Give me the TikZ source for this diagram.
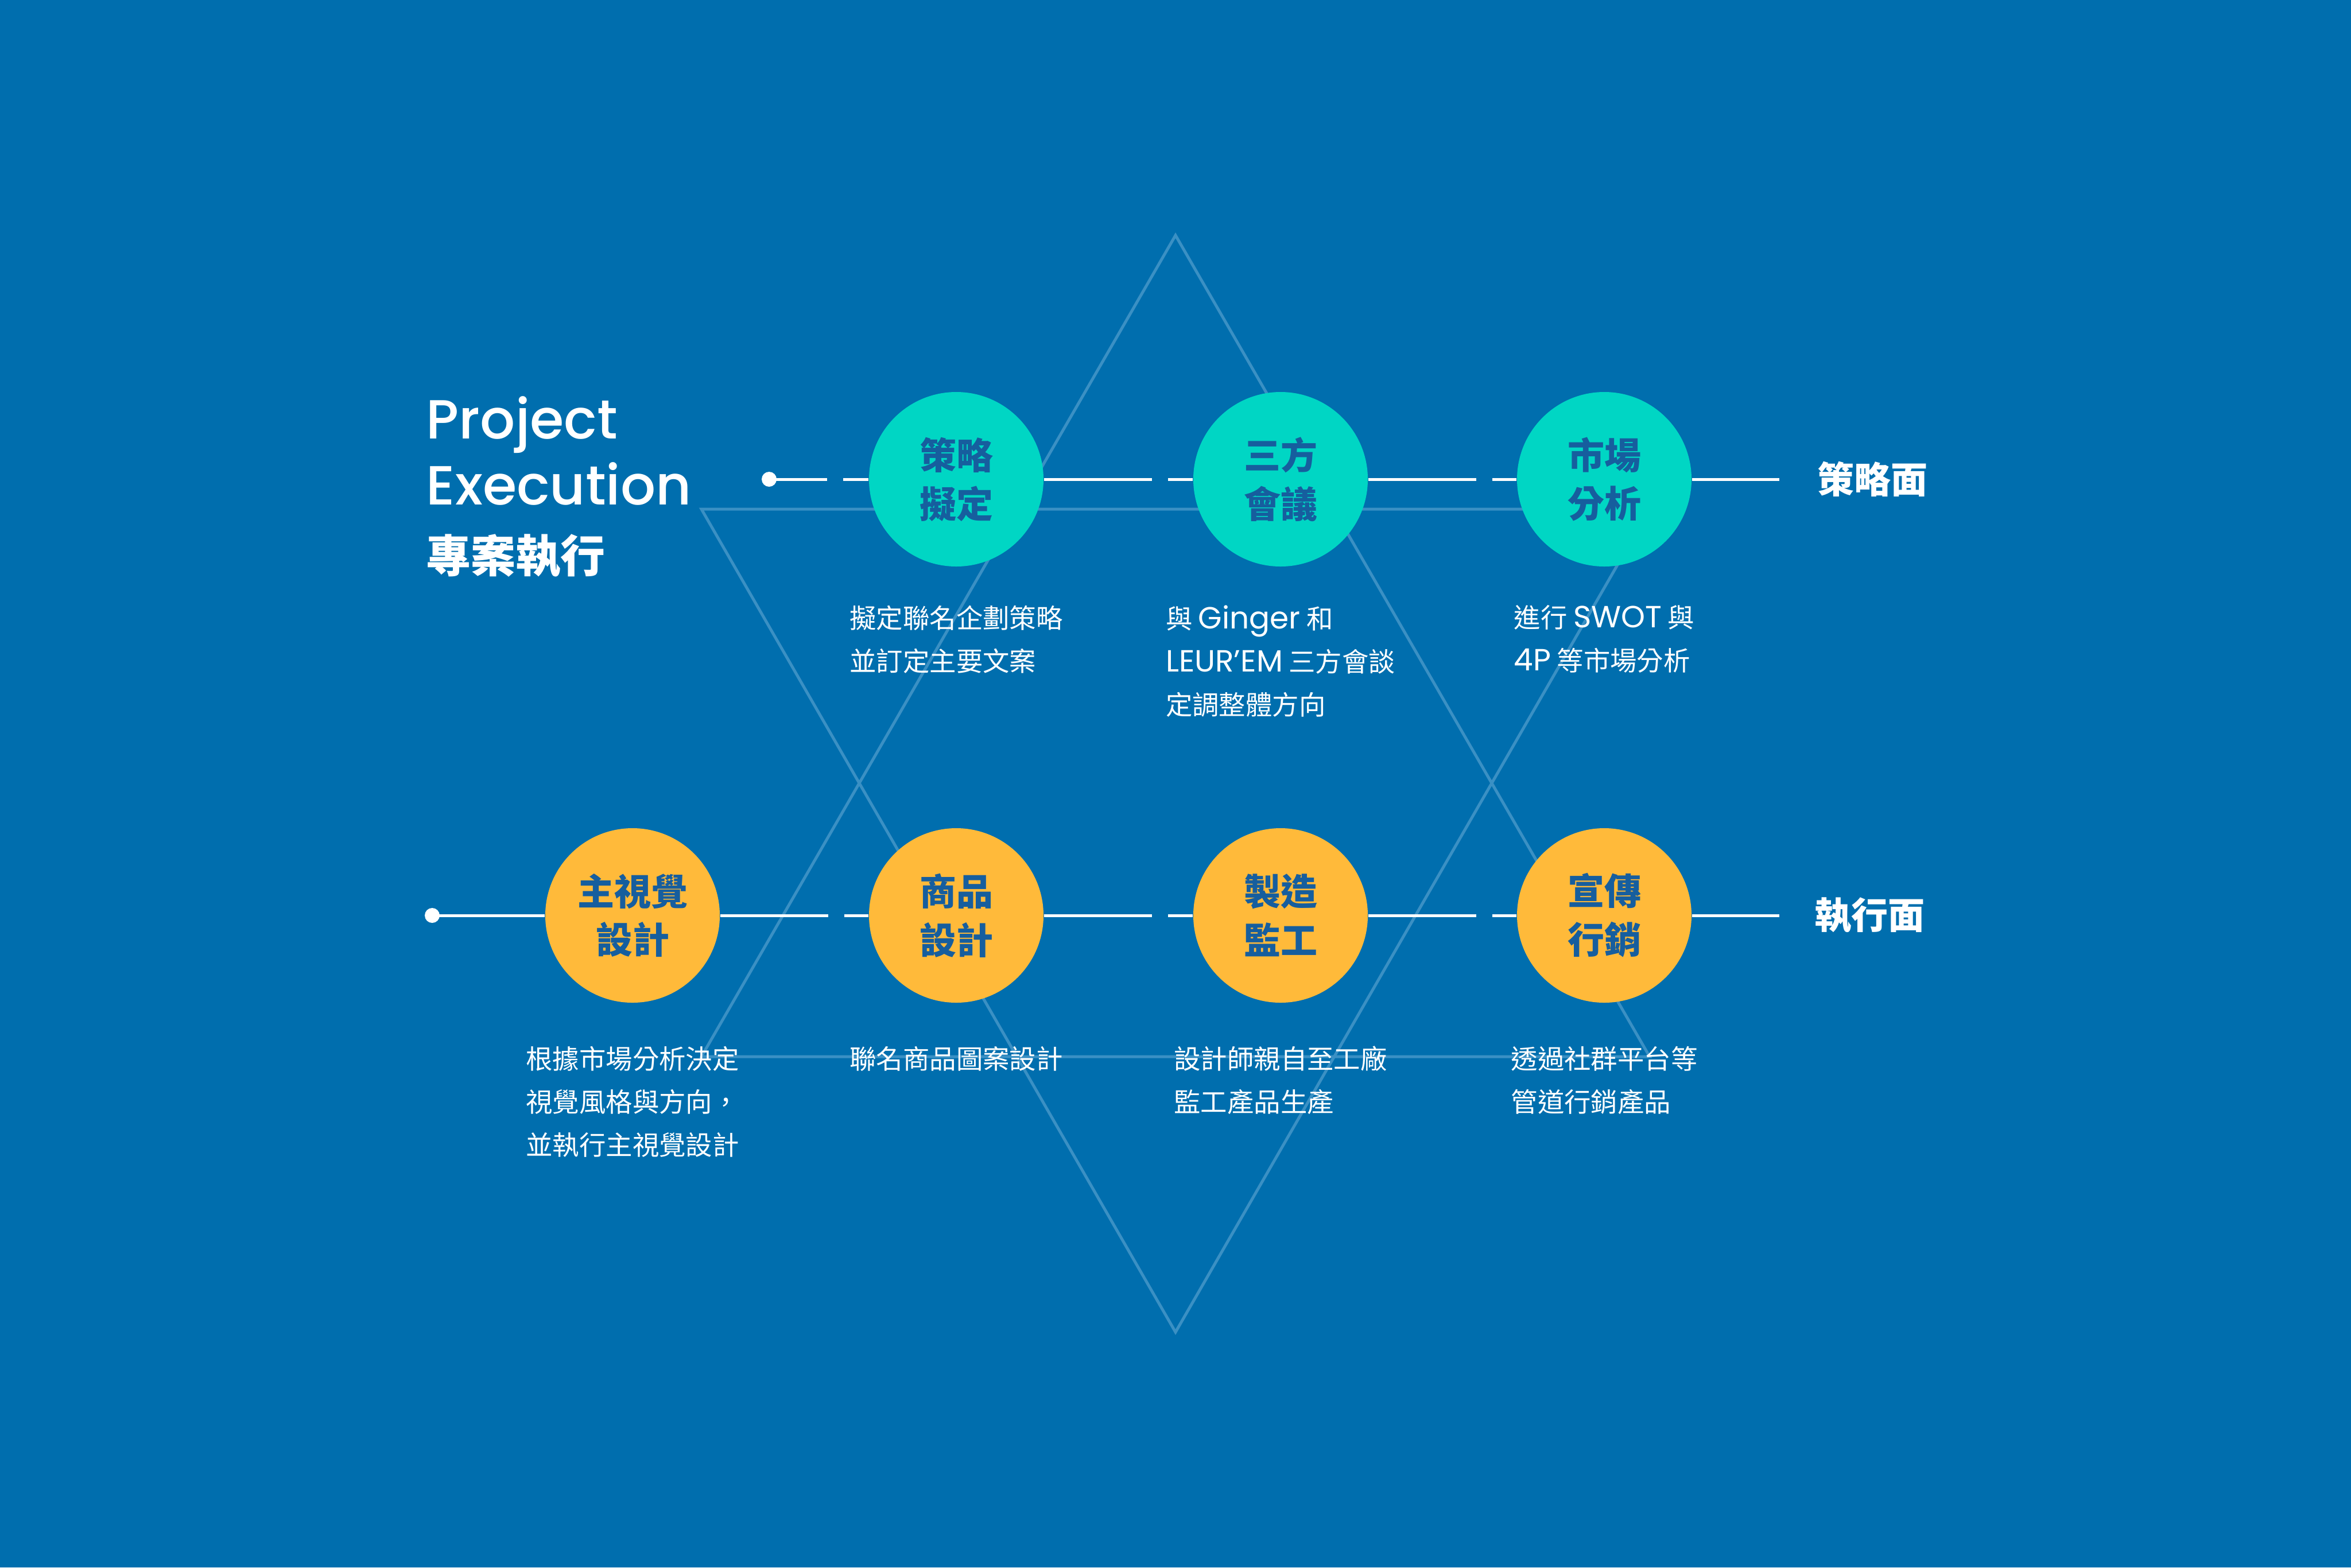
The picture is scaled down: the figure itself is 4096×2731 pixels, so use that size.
\documentclass[tikz,border=0pt]{standalone}
\usepackage{fontspec}
\setmainfont{Poppins}
\newfontfamily\cjk{Noto Sans CJK TC}
\newfontfamily\lat{Poppins}[Scale=1.15]
\IfFontExistsTF{Poppins Medium}
  {\newfontfamily\titlefont{Poppins Medium}}
  {\newfontfamily\titlefont{Poppins}[FakeBold=1.2]}
\definecolor{bgblue}{RGB}{0,110,174}
\definecolor{cteal}{RGB}{0,214,196}
\definecolor{cyel}{RGB}{255,186,58}
\definecolor{cblue}{RGB}{22,94,158}
\definecolor{hexc}{RGB}{58,144,196}
\begin{document}
\begin{tikzpicture}[x=0.25pt,y=-0.25pt,
  wline/.style={draw=white,line width=1.25pt},
  gapline/.style={wline,dash pattern=on 47pt off 7pt on 300pt},
  leadgap/.style={wline,dash pattern=on 25.25pt off 7pt on 300pt},
  hexline/.style={draw=hexc,line width=1.25pt,line join=miter},
  stage/.style={circle,minimum size=76pt,inner sep=0pt,align=center,text=cblue,
    font=\cjk\bfseries\fontsize{16}{21.2}\selectfont},
  strat/.style={stage,fill=cteal},
  execn/.style={stage,fill=cyel},
  desc/.style={anchor=north,inner sep=0pt,align=left,text=white,
    font=\cjk\fontsize{11.6}{18.75}\selectfont},
  side/.style={anchor=west,inner sep=0pt,text=white,
    font=\cjk\bfseries\fontsize{16}{16}\selectfont},
  dotn/.style={circle,fill=white,minimum size=6.5pt,inner sep=0pt}]
\useasboundingbox (0,0) rectangle (4096,2731);
\fill[bgblue] (0,0) rectangle (4096,2731);
% hexagram
\coordinate (ua) at (2048,410);
\coordinate (ul) at (1222,1841);
\coordinate (ur) at (2874,1841);
\coordinate (da) at (2048,2321);
\coordinate (dl) at (1222,887);
\coordinate (dr) at (2874,887);
\draw[hexline] (ua) -- (ul) -- (ur) -- cycle;
\draw[hexline] (da) -- (dl) -- (dr) -- cycle;
% title
\node[anchor=north west,inner sep=0pt,align=left,text=white,
  font=\titlefont\fontsize{24}{28.75}\selectfont] (title) at (742,690) {Project\\Execution};
\node[anchor=north west,inner sep=0pt,text=white,
  font=\cjk\bfseries\fontsize{19.5}{19.5}\selectfont] (subtitle) at (742,930) {專案執行};
% strategy row
\node[dotn] (sdot) at (1340,835) {};
\node[strat] (s1) at (1666,835) {策略\\擬定};
\node[strat] (s2) at (2231,835) {三方\\會議};
\node[strat] (s3) at (2795,835) {市場\\分析};
\coordinate (send) at (3100,835);
\node[side] (slab) at (3166,835) {策略面};
\draw[leadgap] (sdot.center) -- (s1);
\draw[gapline] (s1) -- (s2);
\draw[gapline] (s2) -- (s3);
\draw[wline] (s3) -- (send);
% execution row
\node[dotn] (xdot) at (753,1595) {};
\node[execn] (x1) at (1102,1595) {主視覺\\設計};
\node[execn] (x2) at (1666,1595) {商品\\設計};
\node[execn] (x3) at (2231,1595) {製造\\監工};
\node[execn] (x4) at (2795,1595) {宣傳\\行銷};
\coordinate (xend) at (3100,1595);
\node[side] (xlab) at (3161,1595) {執行面};
\draw[wline] (xdot.center) -- (x1);
\draw[gapline] (x1) -- (x2);
\draw[gapline] (x2) -- (x3);
\draw[gapline] (x3) -- (x4);
\draw[wline] (x4) -- (xend);
% descriptions
\node[desc] (d1) at (1666,1054) {擬定聯名企劃策略\\並訂定主要文案};
\node[desc] (d2) at (2231,1054) {與 {\lat Ginger} 和\\{\lat LEUR’EM} 三方會談\\定調整體方向};
\node[desc] (d3) at (2795,1054) {進行 {\lat SWOT} 與\\{\lat 4P} 等市場分析};
\node[desc] (e1) at (1102,1822) {根據市場分析決定\\視覺風格與方向，\\並執行主視覺設計};
\node[desc] (e2) at (1666,1822) {聯名商品圖案設計};
\node[desc] (e3) at (2231,1822) {設計師親自至工廠\\監工產品生產};
\node[desc] (e4) at (2795,1822) {透過社群平台等\\管道行銷產品};
\end{tikzpicture}
\end{document}
